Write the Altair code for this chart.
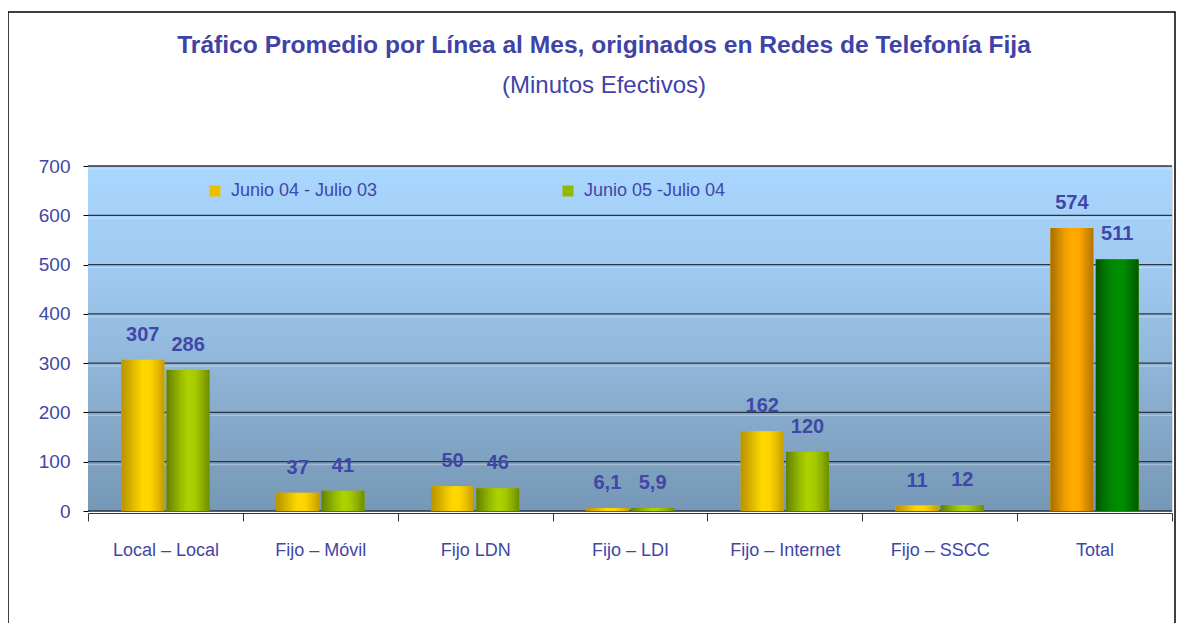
import altair as alt
import pandas as pd

categories = ["Local – Local", "Fijo – Móvil", "Fijo LDN", "Fijo – LDI",
              "Fijo – Internet", "Fijo – SSCC", "Total"]
series_names = ["Junio 04 - Julio 03", "Junio 05 -Julio 04"]
values_0403 = [307, 37, 50, 6.1, 162, 11, 574]
values_0504 = [286, 41, 46, 5.9, 120, 12, 511]
y_ticks = [0, 100, 200, 300, 400, 500, 600, 700]

rows = []
for c, a, b in zip(categories, values_0403, values_0504):
    rows.append({"cat": c, "serie": series_names[0], "v": a})
    rows.append({"cat": c, "serie": series_names[1], "v": b})
df = pd.DataFrame(rows)
df["label"] = df["v"].map(lambda v: f"{v:g}".replace(".", ","))

W, H = 1084, 345
TXT = "#4047A6"
FONT = "Liberation Sans"


def hgrad(cols):
    n = len(cols) - 1
    return {"gradient": "linear", "x1": 0, "y1": 0, "x2": 1, "y2": 0,
            "stops": [{"offset": i / n, "color": c} for i, c in enumerate(cols)]}


gold = hgrad(["#B89400", "#CFA800", "#E8C200", "#FFD700", "#FFD400", "#E6BC00", "#C49C00"])
green = hgrad(["#647F00", "#7E9E00", "#99BE00", "#AED200", "#A6CA00", "#8CAE00", "#6E8C00"])
orange = hgrad(["#A86E00", "#C88600", "#EE9E00", "#FFAA00", "#FFA600", "#D88E00", "#B27400"])
dgreen = hgrad(["#005400", "#006E00", "#008400", "#008E00", "#008A00", "#007000", "#005800"])
bg = {"gradient": "linear", "x1": 0, "y1": 0, "x2": 0, "y2": 1,
      "stops": [{"offset": 0, "color": "#AAD7FF"},
                {"offset": 0.35, "color": "#9DC7EE"},
                {"offset": 0.7, "color": "#89ACCD"},
                {"offset": 1, "color": "#7698B6"}]}

yscale = alt.Scale(domain=[0, 700], nice=False)
yaxis = alt.Axis(title=None, values=y_ticks, grid=False, domainColor="black",
                 tickColor="black", tickSize=5, labelFontSize=19,
                 labelColor=TXT, labelFont=FONT, labelPadding=13)
xenc = alt.X("cat:N", sort=categories,
             scale=alt.Scale(paddingInner=0, paddingOuter=0),
             axis=alt.Axis(title=None, labelAngle=0, tickBand="extent", offset=2,
                           domainColor="#333333", tickColor="#333333", tickSize=8,
                           labelFontSize=18, labelColor=TXT, labelFont=FONT,
                           labelPadding=20, grid=False))
xoff = alt.XOffset("serie:N", sort=series_names,
                   scale=alt.Scale(paddingInner=0.05, paddingOuter=0.735))
yenc = alt.Y("v:Q", scale=yscale, axis=yaxis)

one = pd.DataFrame({"a": [0]})
background = alt.Chart(one).mark_rect(color=bg).encode(
    x=alt.value(0), x2=alt.value(W), y=alt.value(0), y2=alt.value(H))

grid_df = pd.DataFrame({"t": y_ticks})
grid = alt.Chart(grid_df).mark_rule(color="#2B3542", strokeWidth=1.3).encode(
    y=alt.Y("t:Q", scale=yscale, axis=yaxis))
grid_hi = alt.Chart(grid_df).transform_filter(alt.datum.t > 0).mark_rule(
    color="white", strokeWidth=1, opacity=0.35, yOffset=3).encode(
    y=alt.Y("t:Q", scale=yscale, axis=yaxis))

base = alt.Chart(df)
legend_bars = base.mark_bar().encode(
    x=xenc, xOffset=xoff, y=yenc,
    color=alt.Color("serie:N", sort=series_names,
                    scale=alt.Scale(domain=series_names, range=["#E8C000", "#93BA00"]),
                    legend=alt.Legend(title=None, orient="none", legendX=118, legendY=16,
                                      direction="horizontal", columns=2, columnPadding=181,
                                      symbolType="square", symbolSize=121,
                                      symbolStrokeWidth=0, labelFontSize=18,
                                      labelColor=TXT, labelFont=FONT, labelOffset=7,
                                      padding=0)))

last = categories[-1]
is_total = alt.datum.cat == last
layers = []
for serie, grad_norm, grad_tot in [(series_names[0], gold, orange),
                                   (series_names[1], green, dgreen)]:
    layers.append(base.transform_filter((alt.datum.serie == serie) & ~is_total)
                  .mark_bar(color=grad_norm).encode(x=xenc, xOffset=xoff, y=yenc))
    layers.append(base.transform_filter((alt.datum.serie == serie) & is_total)
                  .mark_bar(color=grad_tot).encode(x=xenc, xOffset=xoff, y=yenc))

labels = base.mark_text(dy=-25, fontSize=20, fontWeight="bold", color=TXT,
                        font=FONT, baseline="middle").encode(
    x=xenc, xOffset=xoff, y=yenc, text="label:N")

frame = alt.Chart(one).mark_rect(fillOpacity=0, stroke="black", strokeWidth=1.5).encode(
    x=alt.value(-80), x2=alt.value(1087), y=alt.value(-154), y2=alt.value(700))

chart = alt.layer(background, grid, grid_hi, legend_bars, *layers, labels, frame).properties(
    width=W, height=H,
    title=alt.Title("Tráfico Promedio por Línea al Mes, originados en Redes de Telefonía Fija",
                    subtitle="(Minutos Efectivos)", fontSize=24.6, subtitleFontSize=24,
                    font=FONT, subtitleFont=FONT, fontWeight="bold",
                    subtitleFontWeight="normal", color="#3F43A8", subtitleColor="#3F43A8",
                    anchor="middle", dx=-26, offset=-88, subtitlePadding=16),
    autosize=alt.AutoSizeParams(type="none"),
    padding={"left": 80, "top": 158, "right": 4, "bottom": 112},
).configure_view(strokeWidth=0).configure(background="white")

chart.save("out.html", embed_options={"renderer": "svg", "actions": False})
